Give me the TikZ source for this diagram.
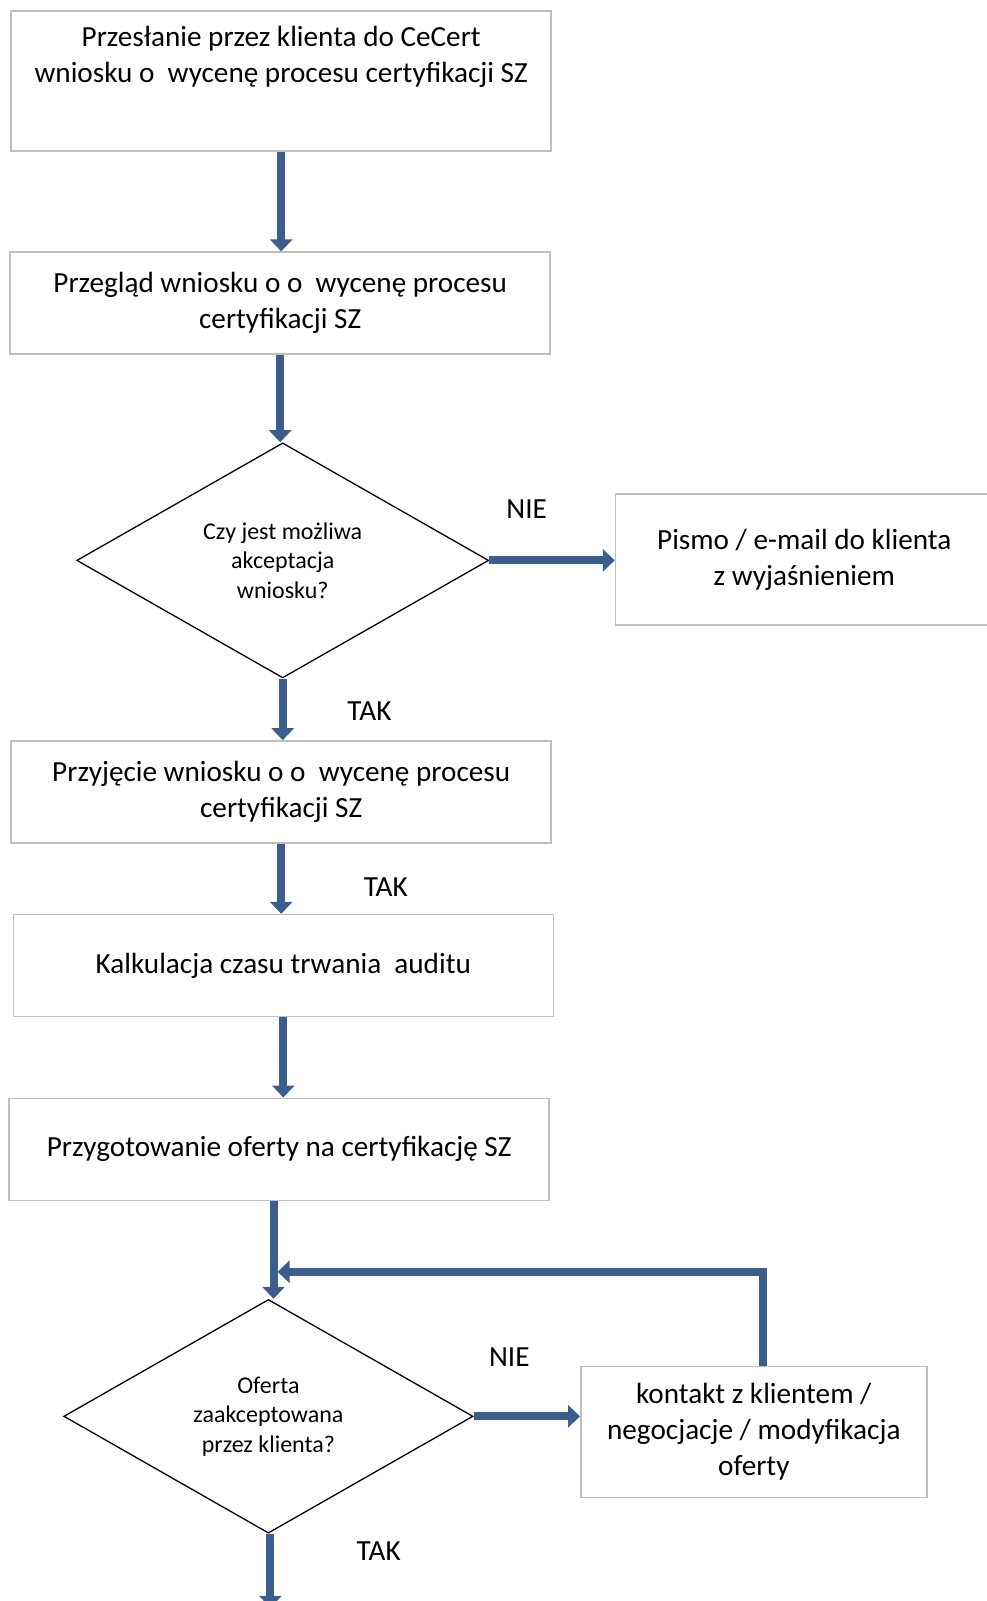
\documentclass[tikz,border=0pt]{standalone}
\usepackage{fontspec}
\setmainfont{Carlito}
\usetikzlibrary{arrows.meta,shapes.geometric,calc,positioning}
\definecolor{FlowClr}{RGB}{59,94,140}
\definecolor{BoxClr}{RGB}{191,191,191}
\newcommand{\BigTxt}{\fontsize{29.2pt}{36pt}\selectfont}
\newcommand{\SmallTxt}{\fontsize{24pt}{29.6pt}\selectfont}

\tikzset{
  stepbox/.style={draw=BoxClr,line width=1.6pt,fill=white,font=\BigTxt,align=center,inner sep=0pt},
  decision/.style={diamond,draw=black,line width=1.3pt,font=\SmallTxt,align=center,inner sep=0pt},
  flow/.style={draw=FlowClr,line width=8pt,-{Triangle[width=22pt,length=12pt]}},
  answer/.style={font=\BigTxt}
}

\begin{document}
\begin{tikzpicture}[x=1pt,y=-1pt]
\useasboundingbox (0,0) rectangle (986,1601);

\node[stepbox,minimum width=540,minimum height=140] (przeslanie) at (281.2,81.2) {};
\node[font=\BigTxt,align=center] (przeslanietxt) at (281.2,56.6) {Przesłanie przez klienta do CeCert\\wniosku o \ wycenę procesu certyfikacji SZ};
\node[stepbox,minimum width=540,minimum height=102] (przeglad) at (280.2,303.2) {Przegląd wniosku o o \ wycenę procesu\\certyfikacji SZ};
\node[decision,minimum width=412,minimum height=229] (mozliwa) at (282.7,560.4) {Czy jest możliwa\\akceptacja\\wniosku?};
\node[stepbox,minimum width=377.5,minimum height=130.7] (pismo) at (804.3,559.4) {Pismo / e-mail do klienta\\z wyjaśnieniem};
\node[stepbox,minimum width=540,minimum height=102] (przyjecie) at (281.2,792) {Przyjęcie wniosku o o \ wycenę procesu\\certyfikacji SZ};
\node[stepbox,minimum width=540,minimum height=102] (kalkulacja) at (283.3,965.6) {Kalkulacja czasu trwania \ auditu};
\node[stepbox,minimum width=540,minimum height=102] (oferta) at (279.2,1149.3) {Przygotowanie oferty na certyfikację SZ};
\node[decision,minimum width=409.3,minimum height=233.7] (zaakceptowana) at (268.4,1416.3) {Oferta\\zaakceptowana\\przez klienta?};
\node[stepbox,minimum width=346,minimum height=130.7] (kontakt) at (753.8,1432) {kontakt z klientem /\\negocjacje / modyfikacja\\oferty};

\coordinate (powrot) at (277.6,1271.8);
\coordinate (dalej) at ($(zaakceptowana.south)+(2,74)$);

\draw[flow] (przeslanie.south) -- (przeslanie.south |- przeglad.north);
\draw[flow] (przeglad.south) -- (przeglad.south |- mozliwa.north);
\draw[flow] (mozliwa.east) -- (pismo.west |- mozliwa.east);
\draw[flow] (mozliwa.south) -- (mozliwa.south |- przyjecie.north);
\draw[flow] (przyjecie.south) -- (przyjecie.south |- kalkulacja.north);
\draw[flow] (kalkulacja.south) -- (kalkulacja.south |- oferta.north);
\draw[flow] ($(oferta.south)+(-5.7,0)$) -- ($(oferta.south |- zaakceptowana.north)+(-5.7,0)$);
\draw[flow] (zaakceptowana.east) -- (kontakt.west |- zaakceptowana.east);
\draw[flow] ($(kontakt.north)+(8.7,0)$) |- (powrot);
\draw[flow] ($(zaakceptowana.south)+(2,0)$) -- (dalej);

\node[answer] (nie1) at (526.7,509.3) {NIE};
\node[answer] (tak1) at (369.5,711.4) {TAK};
\node[answer] (tak2) at (385.8,887) {TAK};
\node[answer] (nie2) at (509.3,1357.5) {NIE};
\node[answer] (tak3) at (378.7,1551.5) {TAK};

\end{tikzpicture}
\end{document}
